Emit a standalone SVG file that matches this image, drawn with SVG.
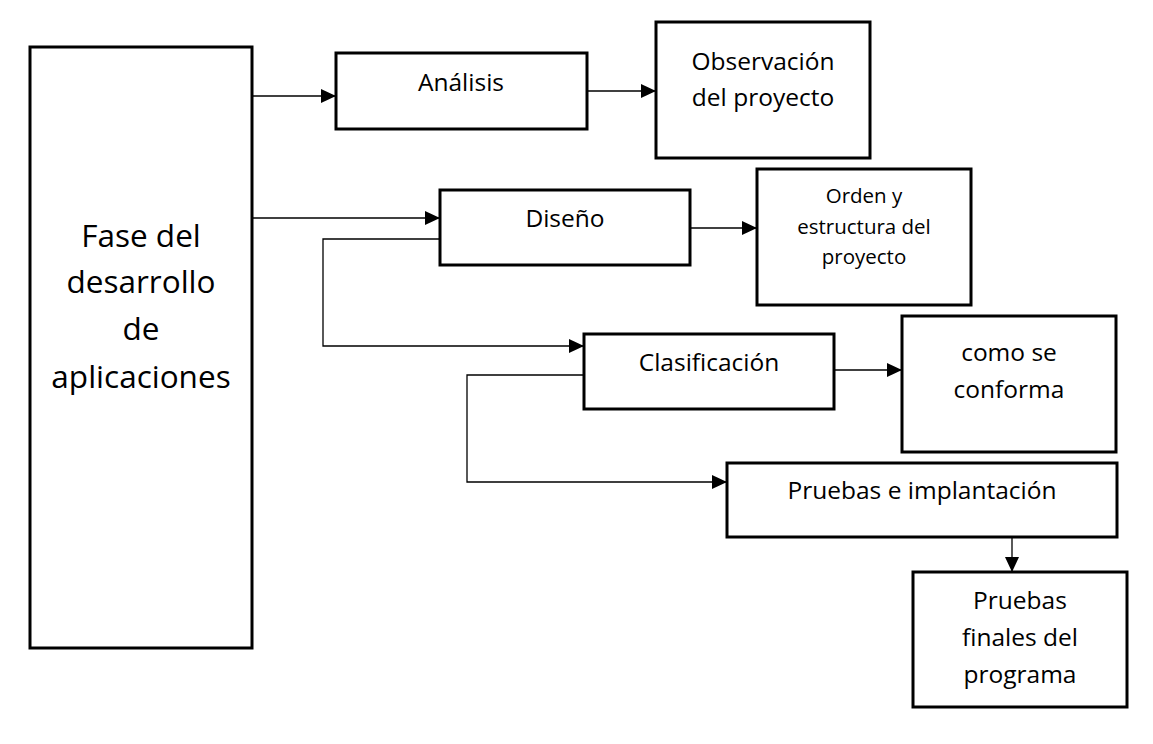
<svg xmlns="http://www.w3.org/2000/svg" width="1153" height="744" viewBox="0 0 1153 744">
<style>
.box{fill:#fff;stroke:#000;stroke-width:3}
.t{font-family:"Open Sans","Noto Sans","Liberation Sans",sans-serif;font-size:24.5px;fill:#000;text-anchor:middle}
.big{font-size:31.5px}
.sm{font-size:20.5px}
.c{fill:none;stroke:#000;stroke-width:1.3}
</style>
<defs>
<marker id="ah" markerWidth="15" markerHeight="14" refX="15" refY="7" orient="auto" markerUnits="userSpaceOnUse">
<path d="M0,0 L15,7 L0,14 Z" fill="#000"/>
</marker>
</defs>
<rect width="1153" height="744" fill="#fff"/>
<g id="connectors">
<path class="c" d="M252,96 H336" marker-end="url(#ah)"/>
<path class="c" d="M587,91 H656" marker-end="url(#ah)"/>
<path class="c" d="M252,218 H440" marker-end="url(#ah)"/>
<path class="c" d="M687,228 H757" marker-end="url(#ah)"/>
<path class="c" d="M440,239 H323 V346 H584" marker-end="url(#ah)"/>
<path class="c" d="M834,370 H902" marker-end="url(#ah)"/>
<path class="c" d="M584,375 H467 V482 H727" marker-end="url(#ah)"/>
<path class="c" d="M1012,537 V572" marker-end="url(#ah)"/>
</g>
<g id="fase">
<rect class="box" x="30" y="47" width="222" height="601"/>
<text class="t big" x="141" y="247">Fase del</text>
<text class="t big" x="141" y="293">desarrollo</text>
<text class="t big" x="141" y="340">de</text>
<text class="t big" x="141" y="388">aplicaciones</text>
</g>
<g id="analisis">
<rect class="box" x="336" y="53" width="251" height="76"/>
<text class="t" x="461" y="91">Análisis</text>
</g>
<g id="observacion">
<rect class="box" x="656" y="22" width="214" height="136"/>
<text class="t" x="763" y="70">Observación</text>
<text class="t" x="763" y="106">del proyecto</text>
</g>
<g id="diseno">
<rect class="box" x="440" y="190" width="250" height="75"/>
<text class="t" x="565" y="227">Diseño</text>
</g>
<g id="orden">
<rect class="box" x="757" y="169" width="214" height="136"/>
<text class="t sm" x="864" y="203">Orden y</text>
<text class="t sm" x="864" y="234">estructura del</text>
<text class="t sm" x="864" y="264">proyecto</text>
</g>
<g id="clasificacion">
<rect class="box" x="584" y="334" width="250" height="75"/>
<text class="t" x="709" y="371">Clasificación</text>
</g>
<g id="como">
<rect class="box" x="902" y="316" width="214" height="136"/>
<text class="t" x="1009" y="361">como se</text>
<text class="t" x="1009" y="398">conforma</text>
</g>
<g id="pruebas_impl">
<rect class="box" x="727" y="463" width="390" height="74"/>
<text class="t" x="922" y="499">Pruebas e implantación</text>
</g>
<g id="pruebas_finales">
<rect class="box" x="913" y="572" width="214" height="135"/>
<text class="t" x="1020" y="609">Pruebas</text>
<text class="t" x="1020" y="646">finales del</text>
<text class="t" x="1020" y="683">programa</text>
</g>
</svg>
